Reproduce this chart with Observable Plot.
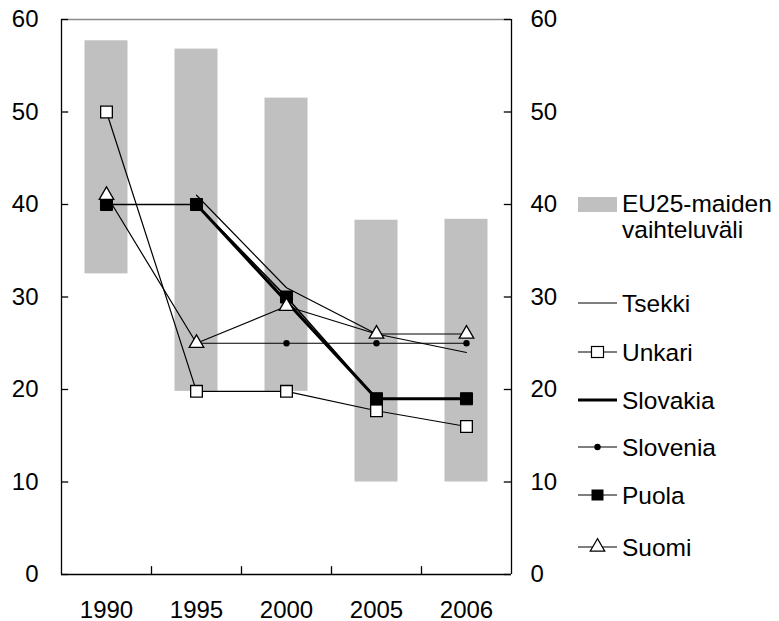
<!DOCTYPE html>
<html>
<head>
<meta charset="utf-8">
<script src="https://cdn.jsdelivr.net/npm/d3@7"></script>
<script src="https://cdn.jsdelivr.net/npm/@observablehq/plot@0.6"></script>
<style>
  html, body { margin: 0; padding: 0; background: white; }
  #wrap { position: relative; width: 779px; height: 621px; }
  #legend { position: absolute; left: 0; top: 0; pointer-events: none; }
</style>
</head>
<body>
<div id="wrap"></div>
<script>
// ---- data ----
const years = ["1990", "1995", "2000", "2005", "2006"];
const euLow  = [32.5, 19.8, 19.8, 10, 10];
const euHigh = [57.7, 56.8, 51.5, 38.3, 38.4];
const tsekki   = [null, 41, 31, 26, 24];
const unkari   = [50, 19.8, 19.8, 17.7, 16];
const slovakia = [null, 40, 29.5, 19, 19];
const slovenia = [null, 25, 25, 25, 25];
const puola    = [40, 40, 30, 19, 19];
const suomi    = [41, 25, 29, 26, 26];
const yTicks = [0, 10, 20, 30, 40, 50, 60];
const bandLabel = "EU25-maiden vaihteluväli";
const seriesNames = ["Tsekki", "Unkari", "Slovakia", "Slovenia", "Puola", "Suomi"];

// ---- tables ----
const bars = years.map((y, i) => ({year: y, i, low: euLow[i], high: euHigh[i]}));
const rows = vals => years.map((y, i) => ({year: y, i, x: i + 0.5, v: vals[i]})).filter(d => d.v != null);
const T = rows(tsekki), U = rows(unkari), SK = rows(slovakia), SL = rows(slovenia), P = rows(puola), S = rows(suomi);
const inner = years.slice(1).map((_, i) => i + 1); // band boundaries

const chart = Plot.plot({
  width: 779, height: 621,
  marginLeft: 61, marginRight: 268, marginTop: 19, marginBottom: 47,
  style: {fontFamily: "'Liberation Sans', Arial, sans-serif", fontSize: "24px", color: "black", background: "white", overflow: "visible"},
  x: {domain: [0, years.length], axis: null, label: null},
  y: {domain: [0, 60], axis: null, label: null},
  marks: [
    Plot.rect(bars, {x1: d => d.i, x2: d => d.i + 1, y1: "low", y2: "high", fill: "#c0c0c0", insetLeft: 23.5, insetRight: 23.5}),
    // frame
    Plot.ruleY([60], {stroke: "#8c8c8c", strokeWidth: 1.3}),
    Plot.ruleY([0], {stroke: "black", strokeWidth: 1.3}),
    Plot.ruleX([0, years.length], {y1: 0, y2: 60, stroke: "black", strokeWidth: 1.3}),
    // ticks (inward)
    Plot.ruleY(yTicks, {x1: 0, x2: 0.08, stroke: "black", strokeWidth: 1.3}),
    Plot.ruleY(yTicks, {x1: years.length - 0.08, x2: years.length, stroke: "black", strokeWidth: 1.3}),
    Plot.ruleX(inner, {y1: 0, y2: 0.85, stroke: "black", strokeWidth: 1.3}),
    // axis labels
    Plot.axisY(yTicks, {anchor: "left", tickSize: 0, tickPadding: 23, fontSize: 24, label: null}),
    Plot.axisY(yTicks, {anchor: "right", tickSize: 0, tickPadding: 19, fontSize: 24, label: null}),
    Plot.axisX(years.map((_, i) => i + 0.5), {anchor: "bottom", tickSize: 0, tickPadding: 26, fontSize: 24, label: null, tickFormat: d => years[Math.floor(d)]}),
    // lines
    Plot.line(T,  {x: "x", y: "v", stroke: "black", strokeWidth: 1.2}),
    Plot.line(U,  {x: "x", y: "v", stroke: "black", strokeWidth: 1.2}),
    Plot.line(SK, {x: "x", y: "v", stroke: "black", strokeWidth: 3}),
    Plot.line(SL, {x: "x", y: "v", stroke: "black", strokeWidth: 1.2}),
    Plot.line(P,  {x: "x", y: "v", stroke: "black", strokeWidth: 1.6}),
    Plot.line(S,  {x: "x", y: "v", stroke: "black", strokeWidth: 1.2}),
    // markers
    Plot.dot(U,  {x: "x", y: "v", symbol: "square", r: 6.6, fill: "white", stroke: "black", strokeWidth: 1.3}),
    Plot.dot(SL, {x: "x", y: "v", symbol: "circle", r: 3.2, fill: "black", stroke: "none"}),
    Plot.dot(P,  {x: "x", y: "v", symbol: "square", r: 6.8, fill: "black", stroke: "black", strokeWidth: 1}),
    Plot.dot(S,  {x: "x", y: "v", symbol: "triangle", r: 5.4, fill: "white", stroke: "black", strokeWidth: 1.3})
  ]
});
const wrap = document.getElementById("wrap");
wrap.appendChild(chart);

// ---- legend ----
const leg = d3.select(wrap).append("svg").attr("id", "legend").attr("width", 779).attr("height", 621)
  .style("font-family", "'Liberation Sans', Arial, sans-serif").style("font-size", "24.5px");
leg.append("rect").attr("x", 578).attr("y", 197).attr("width", 39).attr("height", 15).attr("fill", "#c0c0c0");
const bl = bandLabel.split(" ");
leg.append("text").attr("x", 622).attr("y", 212).text(bl[0]);
leg.append("text").attr("x", 622).attr("y", 238).text(bl[1]);
const itemY = [303, 352, 400, 447, 495, 547];
const lw = [1.2, 1.2, 3, 1.2, 1.2, 1.2];
seriesNames.forEach((name, k) => {
  const y = itemY[k];
  leg.append("line").attr("x1", 578).attr("x2", 617).attr("y1", y).attr("y2", y).attr("stroke", "black").attr("stroke-width", lw[k]);
  const c = 597.5;
  if (name === "Unkari") leg.append("rect").attr("x", c - 6).attr("y", y - 5.5).attr("width", 12).attr("height", 11).attr("fill", "white").attr("stroke", "black").attr("stroke-width", 1.2);
  if (name === "Puola") leg.append("rect").attr("x", c - 6).attr("y", y - 5.5).attr("width", 12).attr("height", 11).attr("fill", "black");
  if (name === "Slovenia") leg.append("circle").attr("cx", c).attr("cy", y).attr("r", 3.2).attr("fill", "black");
  if (name === "Suomi") leg.append("path").attr("d", d3.symbol(d3.symbolTriangle, 92)()).attr("transform", `translate(${c},${y})`).attr("fill", "white").attr("stroke", "black").attr("stroke-width", 1.2);
  leg.append("text").attr("x", 622).attr("y", y).attr("dy", "0.35em").text(name);
});
</script>
</body>
</html>
